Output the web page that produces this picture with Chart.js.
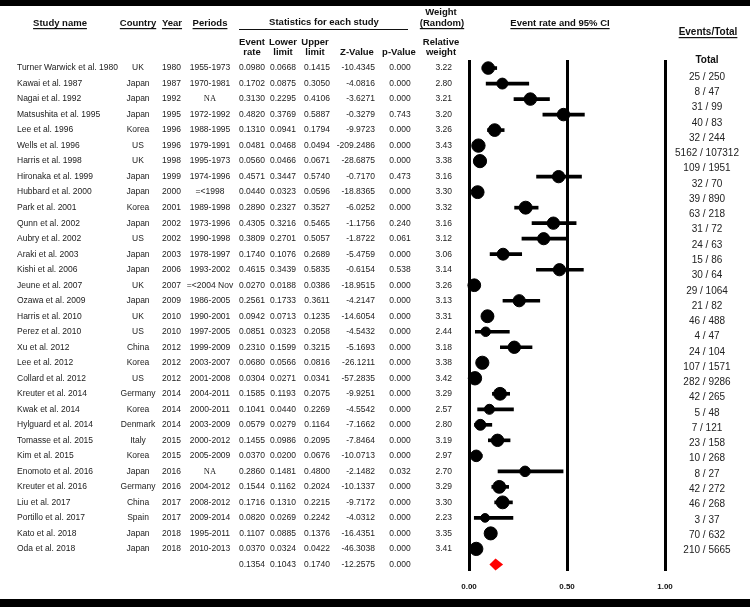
<!DOCTYPE html>
<html>
<head>
<meta charset="utf-8">
<script src="https://cdn.jsdelivr.net/npm/chart.js@4.4.1/dist/chart.umd.min.js"></script>
<style>
  html, body { margin: 0; padding: 0; background: #fff; }
  #wrap { width: 750px; height: 607px; position: relative; }
</style>
</head>
<body>
<div id="wrap"><canvas id="forest"></canvas></div>
<script>
const studies = ['Turner Warwick et al. 1980','Kawai et al. 1987','Nagai et al. 1992','Matsushita et al. 1995','Lee et al. 1996','Wells et al. 1996','Harris et al. 1998','Hironaka et al. 1999','Hubbard et al. 2000','Park et al. 2001','Qunn et al. 2002','Aubry et al. 2002','Araki et al. 2003','Kishi et al. 2006','Jeune et al. 2007','Ozawa et al. 2009','Harris et al. 2010','Perez et al. 2010','Xu et al. 2012','Lee et al. 2012','Collard et al. 2012','Kreuter et al. 2014','Kwak et al. 2014','Hylguard et al. 2014','Tomasse et al. 2015','Kim et al. 2015','Enomoto et al. 2016','Kreuter et al. 2016','Liu et al. 2017','Portillo et al. 2017','Kato et al. 2018','Oda et al. 2018'];
const countries = ['UK','Japan','Japan','Japan','Korea','US','UK','Japan','Japan','Korea','Japan','US','Japan','Japan','UK','Japan','UK','US','China','Korea','US','Germany','Korea','Denmark','Italy','Korea','Japan','Germany','China','Spain','Japan','Japan'];
const years = [1980,1987,1992,1995,1996,1996,1998,1999,2000,2001,2002,2002,2003,2006,2007,2009,2010,2010,2012,2012,2012,2014,2014,2014,2015,2015,2016,2016,2017,2017,2018,2018];
const periods = ['1955-1973','1970-1981','NA','1972-1992','1988-1995','1979-1991','1995-1973','1974-1996','=<1998','1989-1998','1973-1996','1990-1998','1978-1997','1993-2002','=<2004 Nov','1986-2005','1990-2001','1997-2005','1999-2009','2003-2007','2001-2008','2004-2011','2000-2011','2003-2009','2000-2012','2005-2009','NA','2004-2012','2008-2012','2009-2014','1995-2011','2010-2013'];
const eventRate = [0.0980,0.1702,0.3130,0.4820,0.1310,0.0481,0.0560,0.4571,0.0440,0.2890,0.4305,0.3809,0.1740,0.4615,0.0270,0.2561,0.0942,0.0851,0.2310,0.0680,0.0304,0.1585,0.1041,0.0579,0.1455,0.0370,0.2860,0.1544,0.1716,0.0820,0.1107,0.0370];
const lowerLimit = [0.0668,0.0875,0.2295,0.3769,0.0941,0.0468,0.0466,0.3447,0.0323,0.2327,0.3216,0.2701,0.1076,0.3439,0.0188,0.1733,0.0713,0.0323,0.1599,0.0566,0.0271,0.1193,0.0440,0.0279,0.0986,0.0200,0.1481,0.1162,0.1310,0.0269,0.0885,0.0324];
const upperLimit = [0.1415,0.3050,0.4106,0.5887,0.1794,0.0494,0.0671,0.5740,0.0596,0.3527,0.5465,0.5057,0.2689,0.5835,0.0386,0.3611,0.1235,0.2058,0.3215,0.0816,0.0341,0.2075,0.2269,0.1164,0.2095,0.0676,0.4800,0.2024,0.2215,0.2242,0.1376,0.0422];
const zValue = [-10.4345,-4.0816,-3.6271,-0.3279,-9.9723,-209.2486,-28.6875,-0.7170,-18.8365,-6.0252,-1.1756,-1.8722,-5.4759,-0.6154,-18.9515,-4.2147,-14.6054,-4.5432,-5.1693,-26.1211,-57.2835,-9.9251,-4.5542,-7.1662,-7.8464,-10.0713,-2.1482,-10.1337,-9.7172,-4.0312,-16.4351,-46.3038];
const pValue = [0.000,0.000,0.000,0.743,0.000,0.000,0.000,0.473,0.000,0.000,0.240,0.061,0.000,0.538,0.000,0.000,0.000,0.000,0.000,0.000,0.000,0.000,0.000,0.000,0.000,0.000,0.032,0.000,0.000,0.000,0.000,0.000];
const weights = [3.22,2.80,3.21,3.20,3.26,3.43,3.38,3.16,3.30,3.32,3.16,3.12,3.06,3.14,3.26,3.13,3.31,2.44,3.18,3.38,3.42,3.29,2.57,2.80,3.19,2.97,2.70,3.29,3.30,2.23,3.35,3.41];
const events = [25,8,31,40,32,5162,109,32,39,63,31,24,15,30,29,21,46,4,24,107,282,42,5,7,23,10,8,42,46,3,70,210];
const totals = [250,47,99,83,244,107312,1951,70,890,218,72,63,86,64,1064,82,488,47,104,1571,9286,265,48,121,158,268,27,272,268,37,632,5665];
const summary = { rate: 0.1354, lower: 0.1043, upper: 0.1740, z: -12.2575, p: 0.000 };
const xTicks = [0, 0.5, 1];

const SUM_ROW = studies.length;
const FONT = '"Liberation Sans", Arial, sans-serif';

function txt(ctx, s, x, y, align, font) {
  ctx.font = font;
  ctx.textAlign = align;
  ctx.textBaseline = 'middle';
  ctx.fillText(s, x, y);
}
function underlined(ctx, s, x, y, font) {
  txt(ctx, s, x, y, 'center', font);
  const w = ctx.measureText(s).width;
  ctx.fillRect(x - w / 2, y + 5, w, 1.2);
}

const tablePlugin = {
  id: 'table',
  beforeDraw(chart) {
    const ctx = chart.ctx;
    ctx.save();
    ctx.fillStyle = '#fff';
    ctx.fillRect(0, 0, chart.width, chart.height);
    ctx.fillStyle = '#000';
    ctx.fillRect(0, 0, chart.width, 6);
    ctx.fillRect(0, 599, chart.width, 8);
    ctx.restore();
  },
  afterDraw(chart) {
    const ctx = chart.ctx;
    const y = chart.scales.y;
    const yEv = chart.scales.yEv;
    const hb = 'bold 9.5px ' + FONT;
    const rf = '8.5px ' + FONT;
    ctx.save();
    ctx.fillStyle = '#111';
    // headers
    underlined(ctx, 'Study name', 60, 23, hb);
    underlined(ctx, 'Country', 138, 23, hb);
    underlined(ctx, 'Year', 172, 23, hb);
    underlined(ctx, 'Periods', 210, 23, hb);
    txt(ctx, 'Statistics for each study', 324, 22, 'center', hb);
    ctx.fillRect(239, 29, 169, 1);
    txt(ctx, 'Weight', 441, 12, 'center', hb);
    underlined(ctx, '(Random)', 442, 23, hb);
    const sub = [['Event', 'rate', 252], ['Lower', 'limit', 283], ['Upper', 'limit', 315], ['Relative', 'weight', 441]];
    sub.forEach(s => {
      txt(ctx, s[0], s[2], 42, 'center', hb);
      txt(ctx, s[1], s[2], 52, 'center', hb);
    });
    txt(ctx, 'Z-Value', 357, 52, 'center', hb);
    txt(ctx, 'p-Value', 399, 52, 'center', hb);
    underlined(ctx, 'Event rate and 95% CI', 560, 23, hb);
    underlined(ctx, 'Events/Total', 708, 32, 'bold 10px ' + FONT);
    txt(ctx, 'Total', 707, 60, 'center', 'bold 10px ' + FONT);

    // rows
    ctx.fillStyle = '#222';
    studies.forEach((name, i) => {
      const py = y.getPixelForValue(i);
      txt(ctx, name, 17, py, 'left', rf);
      txt(ctx, countries[i], 138, py, 'center', rf);
      txt(ctx, String(years[i]), 181, py, 'right', rf);
      if (periods[i] === 'NA') txt(ctx, 'NA', 210, py, 'center', '8.5px "Liberation Serif", serif');
      else txt(ctx, periods[i], 210, py, 'center', rf);
      txt(ctx, eventRate[i].toFixed(4), 252, py, 'center', rf);
      txt(ctx, lowerLimit[i].toFixed(4), 283, py, 'center', rf);
      txt(ctx, upperLimit[i].toFixed(4), 317, py, 'center', rf);
      txt(ctx, zValue[i].toFixed(4), 375, py, 'right', rf);
      txt(ctx, pValue[i].toFixed(3), 400, py, 'center', rf);
      txt(ctx, weights[i].toFixed(2), 452, py, 'right', rf);
      txt(ctx, events[i] + ' / ' + totals[i], 707, yEv.getPixelForValue(i), 'center', '10px ' + FONT);
    });
    const sy = y.getPixelForValue(SUM_ROW);
    txt(ctx, summary.rate.toFixed(4), 252, sy, 'center', rf);
    txt(ctx, summary.lower.toFixed(4), 283, sy, 'center', rf);
    txt(ctx, summary.upper.toFixed(4), 317, sy, 'center', rf);
    txt(ctx, summary.z.toFixed(4), 375, sy, 'right', rf);
    txt(ctx, summary.p.toFixed(3), 400, sy, 'center', rf);
    ctx.restore();
  },
  afterDatasetsDraw(chart) {
    const ctx = chart.ctx;
    const x = chart.scales.x;
    const py = chart.scales.y.getPixelForValue(SUM_ROW);
    ctx.save();
    ctx.fillStyle = '#ff0000';
    ctx.beginPath();
    ctx.moveTo(x.getPixelForValue(summary.lower), py);
    ctx.lineTo(x.getPixelForValue(summary.rate), py - 6);
    ctx.lineTo(x.getPixelForValue(summary.upper), py);
    ctx.lineTo(x.getPixelForValue(summary.rate), py + 6);
    ctx.closePath();
    ctx.fill();
    ctx.restore();
  }
};

new Chart(document.getElementById('forest'), {
  type: 'bar',
  data: {
    datasets: [
      {
        type: 'scatter',
        data: eventRate.map((r, i) => ({ x: r, y: i })),
        backgroundColor: '#000',
        borderColor: '#000',
        pointRadius: c => weights[c.dataIndex] * 1.95,
        pointHoverRadius: c => weights[c.dataIndex] * 1.95,
        clip: false,
        order: 0
      },
      {
        type: 'bar',
        indexAxis: 'y',
        data: lowerLimit.map((lo, i) => ({ y: i, x: [lo, upperLimit[i]] })),
        backgroundColor: '#000',
        borderWidth: 0,
        borderSkipped: false,
        barThickness: 3,
        clip: false,
        order: 1
      }
    ]
  },
  options: {
    responsive: true,
    maintainAspectRatio: false,
    animation: false,
    layout: { padding: { left: 469, right: 85, top: 60, bottom: 4 } },
    plugins: { legend: { display: false }, tooltip: { enabled: false } },
    scales: {
      x: {
        type: 'linear',
        offset: false,
        min: 0,
        max: 1,
        afterBuildTicks: s => { s.ticks = xTicks.map(v => ({ value: v })); },
        border: { display: false },
        grid: { color: '#000', lineWidth: 3, drawTicks: false, offset: false },
        ticks: {
          padding: 11,
          color: '#111',
          font: { size: 8, weight: 'bold', family: FONT },
          callback: v => Number(v).toFixed(2)
        }
      },
      y: {
        type: 'linear',
        display: false,
        offset: false,
        reverse: true,
        min: -0.52,
        max: 32.45
      },
      yEv: {
        type: 'linear',
        axis: 'y',
        display: false,
        offset: false,
        reverse: true,
        min: -1.116,
        max: 32.38
      }
    }
  },
  plugins: [tablePlugin]
});
</script>
</body>
</html>
